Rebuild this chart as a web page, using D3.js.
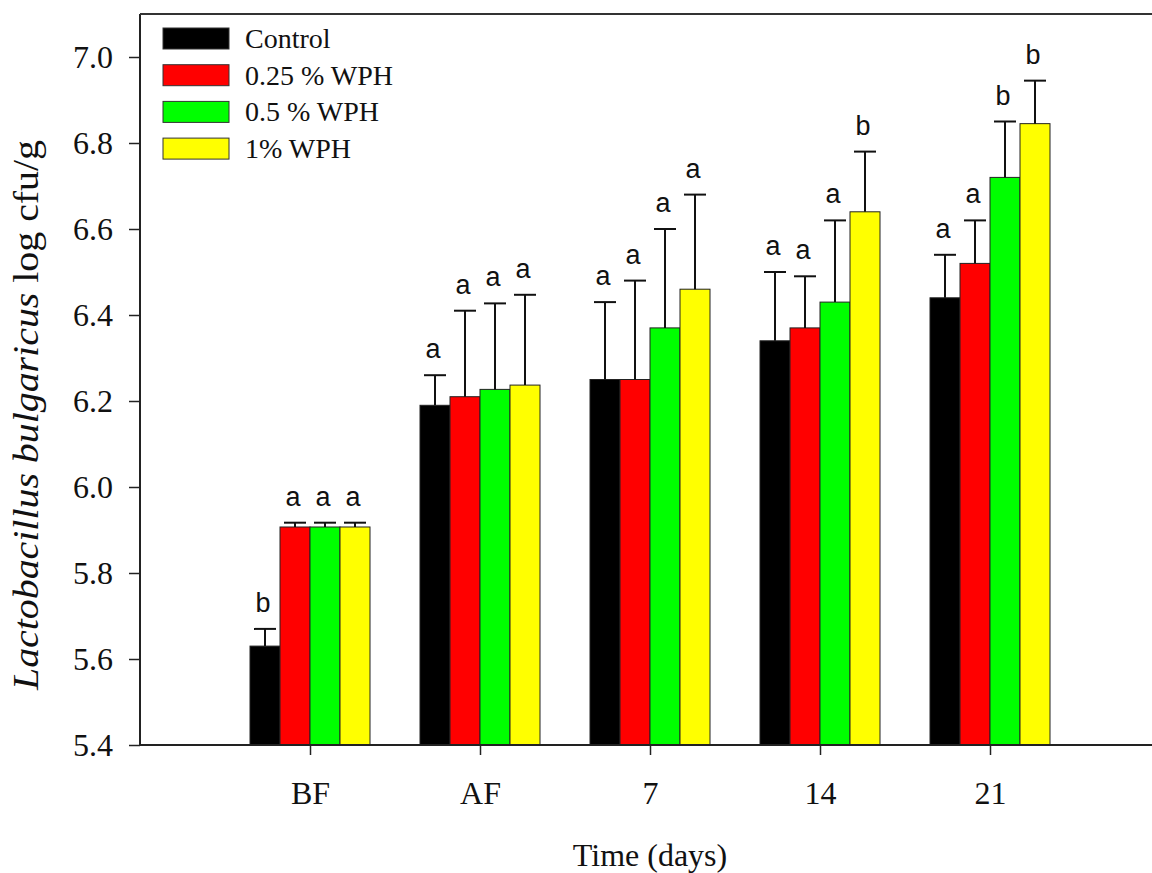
<!DOCTYPE html>
<html>
<head>
<meta charset="utf-8">
<script src="https://cdn.jsdelivr.net/npm/d3@7"></script>
<style>
  body { margin: 0; background: #fff; }
  svg { display: block; }
</style>
</head>
<body>
<div id="chart"></div>
<script>
const WIDTH = 1152;
const HEIGHT = 873;

// datos
const dias = ["BF", "AF", "7", "14", "21"];
const series = ["Control", "0.25 % WPH", "0.5 % WPH", "1% WPH"];
const colores = ["#000000", "#ff0000", "#00ff00", "#ffff00"];

const medias = [
  [5.63, 6.19, 6.25, 6.34, 6.44],   // Control
  [5.907, 6.21, 6.25, 6.37, 6.52],  // 0.25 %
  [5.907, 6.227, 6.37, 6.43, 6.72], // 0.5 %
  [5.907, 6.237, 6.46, 6.64, 6.845] // 1 %
];
const errores = [
  [0.04, 0.07, 0.18, 0.16, 0.10],
  [0.01, 0.20, 0.23, 0.12, 0.10],
  [0.01, 0.20, 0.23, 0.19, 0.13],
  [0.01, 0.21, 0.22, 0.14, 0.10]
];
const letras = [
  ["b", "a", "a", "a", "a"],
  ["a", "a", "a", "a", "a"],
  ["a", "a", "a", "a", "b"],
  ["a", "a", "a", "b", "b"]
];
const yTicks = [5.4, 5.6, 5.8, 6.0, 6.2, 6.4, 6.6, 6.8, 7.0];

const margin = { left: 140, top: 14, bottom: 745 };
const SVG = d3.select("#chart").append("svg")
  .attr("width", WIDTH).attr("height", HEIGHT);

const escalaX = d3.scaleLinear().domain([0, 6]).range([margin.left, 1160]);
const escalaSerie = d3.scaleBand().domain(series).range([-60, 60]);
const escalaY = d3.scaleLinear().domain([5.4, 7.1]).range([margin.bottom, margin.top]);

// tabla plana para dibujar
const datos = [];
series.forEach((s, j) => {
  dias.forEach((d, i) => {
    datos.push({ serie: s, j: j, dia: d, i: i, v: medias[j][i], e: errores[j][i], letra: letras[j][i] });
  });
});

const centro = d => escalaX(d.i + 1) + escalaSerie(d.serie) + escalaSerie.bandwidth() / 2;

const barras = SVG.append("g");
barras.selectAll("rect")
  .data(datos)
  .join("rect")
  .attr("x", d => escalaX(d.i + 1) + escalaSerie(d.serie))
  .attr("y", d => escalaY(d.v))
  .attr("width", escalaSerie.bandwidth())
  .attr("height", d => escalaY(5.4) - escalaY(d.v))
  .attr("fill", d => colores[d.j])
  .attr("stroke", "#222")
  .attr("stroke-width", 1);

// barras de error (solo hacia arriba)
const err = SVG.append("g").attr("stroke", "#111").attr("stroke-width", 2);
err.selectAll("line.vert")
  .data(datos)
  .join("line")
  .attr("class", "vert")
  .attr("x1", centro)
  .attr("x2", centro)
  .attr("y1", d => escalaY(d.v))
  .attr("y2", d => escalaY(d.v + d.e));
err.selectAll("line.cap")
  .data(datos)
  .join("line")
  .attr("class", "cap")
  .attr("x1", d => centro(d) - 11)
  .attr("x2", d => centro(d) + 11)
  .attr("y1", d => escalaY(d.v + d.e))
  .attr("y2", d => escalaY(d.v + d.e));

// letras de significancia
SVG.append("g").selectAll("text")
  .data(datos)
  .join("text")
  .attr("x", d => centro(d) - 2)
  .attr("y", d => escalaY(d.v + d.e) - 17)
  .attr("text-anchor", "middle")
  .attr("font-family", "'Liberation Sans', Arial, sans-serif")
  .attr("font-size", 27)
  .attr("fill", "#111")
  .text(d => d.letra);

// ejes
const ejeY = SVG.append("g")
  .attr("transform", `translate(${margin.left},0)`)
  .call(d3.axisLeft(escalaY).tickValues(yTicks).tickFormat(d3.format(".1f")).tickSize(11).tickPadding(16));
const ejeX = SVG.append("g")
  .attr("transform", `translate(0,${margin.bottom})`)
  .call(d3.axisBottom(escalaX).tickValues([1, 2, 3, 4, 5]).tickFormat(i => dias[i - 1]).tickSize(10).tickPadding(26));

[ejeY, ejeX].forEach(g => {
  g.select(".domain").remove();
  g.selectAll(".tick line").attr("stroke", "#222").attr("stroke-width", 1.5);
  g.selectAll(".tick text")
    .attr("font-family", "'Liberation Serif', 'Times New Roman', serif")
    .attr("font-size", 32)
    .attr("fill", "#111");
});

// marco: izquierda, abajo y arriba
SVG.append("line").attr("x1", margin.left).attr("x2", margin.left)
  .attr("y1", margin.top).attr("y2", margin.bottom)
  .attr("stroke", "#222").attr("stroke-width", 2);
SVG.append("line").attr("x1", margin.left).attr("x2", WIDTH)
  .attr("y1", margin.bottom).attr("y2", margin.bottom)
  .attr("stroke", "#222").attr("stroke-width", 2);
SVG.append("line").attr("x1", margin.left).attr("x2", WIDTH)
  .attr("y1", margin.top).attr("y2", margin.top)
  .attr("stroke", "#333").attr("stroke-width", 2);

// titulos
SVG.append("text")
  .attr("x", escalaX(3))
  .attr("y", 866)
  .attr("text-anchor", "middle")
  .attr("font-family", "'Liberation Serif', 'Times New Roman', serif")
  .attr("font-size", 32)
  .attr("fill", "#111")
  .text("Time (days)");

const tituloY = SVG.append("text")
  .attr("transform", "translate(38,415) rotate(-90)")
  .attr("text-anchor", "middle")
  .attr("textLength", 550)
  .attr("lengthAdjust", "spacingAndGlyphs")
  .attr("font-family", "'Liberation Serif', 'Times New Roman', serif")
  .attr("font-size", 35)
  .attr("fill", "#111");
tituloY.append("tspan").attr("font-style", "italic").text("Lactobacillus bulgaricus");
tituloY.append("tspan").text(" log cfu/g");

// leyenda
const leyenda = SVG.append("g").selectAll("g")
  .data(series)
  .join("g")
  .attr("transform", (d, i) => `translate(163, ${28 + i * 36.7})`);
leyenda.append("rect")
  .attr("width", 66).attr("height", 21)
  .attr("fill", (d, i) => colores[i])
  .attr("stroke", "#333").attr("stroke-width", 1);
leyenda.append("text")
  .attr("x", 82).attr("y", 20)
  .attr("font-family", "'Liberation Serif', 'Times New Roman', serif")
  .attr("font-size", 28)
  .attr("fill", "#111")
  .text(d => d);
</script>
</body>
</html>
